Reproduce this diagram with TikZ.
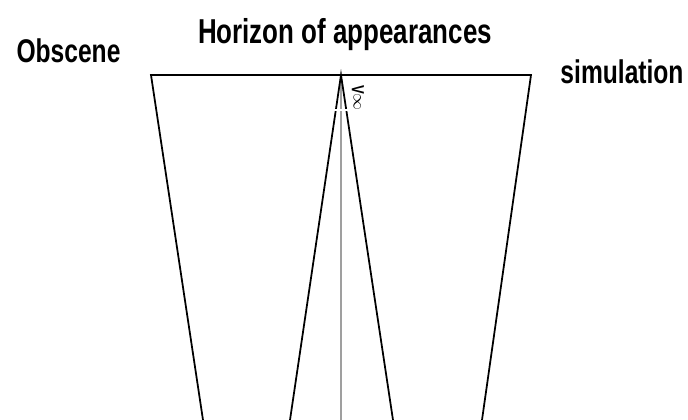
\documentclass[tikz,border=0pt]{standalone}
\usepackage{fontspec}
\newfontfamily\labelfont[FakeStretch=0.75]{Liberation Sans}
\usetikzlibrary{positioning}

\begin{document}
\begin{tikzpicture}[
  x=0.03cm, y=-0.03cm,
  every node/.style={font=\labelfont\bfseries\fontsize{28}{30}\selectfont, inner sep=0pt, anchor=base},
  edge/.style={draw=black, line width=1.5pt},
  axis/.style={draw=gray!75, line width=2.4pt}
]
\useasboundingbox (0,0) rectangle (688,420);
% frame of the horizon
\coordinate (tl) at (151,75);
\coordinate (tr) at (531,75);
\coordinate (apex) at (341,75);
\coordinate (bl) at (203,420);
\coordinate (br) at (482,420);
\coordinate (il) at (290,420);
\coordinate (ir) at (393,420);
\coordinate (base) at (341,420);
\coordinate (gapl) at (332,110);
\coordinate (gapr) at (350,110);

\node (horizon) [font=\labelfont\bfseries\fontsize{29.5}{31}\selectfont] at (345,43) {Horizon of appearances};
\node (obscene) at (68.5,62) {Obscene};
\node (simul) at (622,83) {simulation};
\node (vinf) [rotate=-90, anchor=center, font=\labelfont\bfseries\fontsize{15}{17}\selectfont] at (358,98) {V\raisebox{0.1em}{$\mathbf{\infty}$}};

\draw[axis] (apex) -- (base);
\draw[edge] (bl) -- (tl) -- (tr) -- (br);
\draw[edge] (il) -- (apex) -- (ir);
\draw[white, line width=1.2pt] (gapl) -- (gapr);
\end{tikzpicture}
\end{document}
